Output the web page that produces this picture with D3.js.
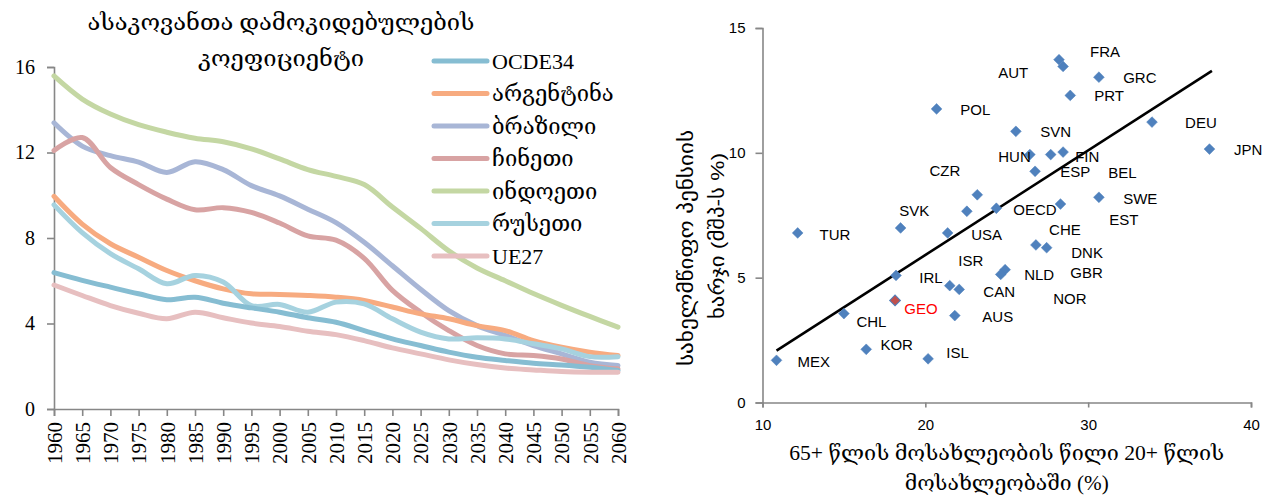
<!DOCTYPE html>
<html>
<head>
<meta charset="utf-8">
<script src="https://cdn.jsdelivr.net/npm/d3@7"></script>
<style>
  html, body { margin: 0; padding: 0; background: #ffffff; }
  svg { display: block; }
</style>
</head>
<body>
<svg id="chart" width="1271" height="496"></svg>
<script>
// ---- Left panel: old-age dependency ratio, 1960–2060 ----
const years = [1960, 1965, 1970, 1975, 1980, 1985, 1990, 1995, 2000, 2005, 2010,
               2015, 2020, 2025, 2030, 2035, 2040, 2045, 2050, 2055, 2060];

const seriesNames = ["OCDE34", "არგენტინა", "ბრაზილი", "ჩინეთი", "ინდოეთი", "რუსეთი", "UE27"];

const ocde34    = [6.38, 6.02, 5.70, 5.39, 5.11, 5.23, 4.95, 4.73, 4.53, 4.27, 4.06, 3.67, 3.28, 2.97, 2.66, 2.42, 2.27, 2.14, 2.06, 1.95, 1.80];
const argentina = [9.95, 8.65, 7.73, 7.10, 6.48, 6.00, 5.62, 5.39, 5.36, 5.31, 5.23, 5.08, 4.77, 4.45, 4.22, 3.90, 3.67, 3.20, 2.89, 2.66, 2.50];
const brazil    = [13.39, 12.30, 11.85, 11.55, 11.07, 11.57, 11.20, 10.45, 9.97, 9.35, 8.72, 7.80, 6.70, 5.60, 4.60, 3.90, 3.44, 2.97, 2.58, 2.19, 2.03];
const china     = [12.09, 12.70, 11.30, 10.50, 9.82, 9.32, 9.42, 9.20, 8.70, 8.10, 7.90, 7.05, 5.55, 4.53, 3.67, 2.97, 2.58, 2.50, 2.34, 2.03, 1.88];
const india     = [15.58, 14.50, 13.80, 13.30, 12.95, 12.67, 12.50, 12.17, 11.70, 11.20, 10.88, 10.50, 9.45, 8.45, 7.40, 6.60, 6.00, 5.40, 4.85, 4.33, 3.83];
const russia    = [9.55, 8.25, 7.27, 6.56, 5.86, 6.25, 5.94, 4.84, 4.89, 4.53, 5.00, 4.92, 4.22, 3.60, 3.28, 3.33, 3.28, 3.05, 2.81, 2.45, 2.45];
const ue27      = [5.80, 5.31, 4.84, 4.48, 4.22, 4.53, 4.27, 4.02, 3.86, 3.64, 3.48, 3.20, 2.86, 2.58, 2.30, 2.08, 1.92, 1.83, 1.75, 1.72, 1.72];

const leftYTicks = [0, 4, 8, 12, 16];

// ---- Right panel: public pension spending vs. share of population 65+ ----
const countries = ["FRA", "AUT", "GRC", "PRT", "POL", "SVN", "DEU", "JPN", "HUN", "FIN", "BEL",
                   "ESP", "CZR", "SVK", "OECD", "SWE", "EST", "USA", "TUR", "CHE", "DNK", "ISR",
                   "NLD", "GBR", "IRL", "CAN", "NOR", "GEO", "AUS", "CHL", "KOR", "ISL", "MEX"];
// share of 65+ in population 20+ (%)
const elderlyShare = [28.21, 28.46, 30.66, 28.90, 20.69, 25.56, 33.92, 37.45, 26.42, 28.46, 27.70,
                      26.74, 23.19, 18.48, 24.36, 30.66, 28.30, 21.37, 12.16, 26.79, 27.45, 22.55,
                      24.90, 24.63, 18.20, 21.50, 22.08, 18.14, 21.81, 15.00, 16.37, 20.17, 10.86];
// public pension expenditure (% of GDP)
const pensionSpend = [13.73, 13.46, 13.03, 12.30, 11.76, 10.86, 11.23, 10.15, 9.93, 10.03, 9.93,
                      9.26, 8.32, 6.99, 7.78, 8.22, 7.95, 6.79, 6.79, 6.31, 6.20, 7.66,
                      5.32, 5.13, 5.09, 4.68, 4.53, 4.09, 3.48, 3.56, 2.13, 1.75, 1.69];
// where each country code is written, in axis units
const labelX = [30.12, 24.48, 32.15, 30.37, 22.15, 27.06, 35.95, 38.96, 24.48, 29.20, 31.23,
                28.28, 20.25, 18.40, 25.40, 32.15, 31.29, 22.82, 13.50, 27.60, 28.96, 22.02,
                26.07, 28.90, 19.63, 23.56, 27.85, 18.71, 23.50, 15.77, 17.24, 21.29, 12.15];
const labelY = [14.04, 13.20, 13.00, 12.28, 11.72, 10.84, 11.20, 10.12, 9.84, 9.84, 9.20,
                9.24, 9.28, 7.68, 7.72, 8.16, 7.32, 6.72, 6.72, 6.92, 6.00, 5.68,
                5.12, 5.20, 5.00, 4.44, 4.16, 3.76, 3.44, 3.24, 2.32, 2.00, 1.64];
const trendX = [10.86, 37.60];
const trendY = [2.08, 13.28];
const rightXTicks = [10, 20, 30, 40];
const rightYTicks = [0, 5, 10, 15];

// ---- styling ----
const seriesColors = ["#86bdd2", "#f7ab80", "#a8b6d6", "#d8a3a3", "#c4d7a3", "#a6d2df", "#e7bfc0"];
const axisColor = "#878787";
const serif = "'Liberation Serif', 'DejaVu Serif', serif";
const sans = "'Liberation Sans', 'DejaVu Sans', sans-serif";

const svg = d3.select("#chart");
svg.append("rect").attr("width", 1271).attr("height", 496).attr("fill", "#ffffff");

// draws a text line squeezed or stretched to a given width
function fitText(parent, text, width, attrs) {
  const t = parent.append("text").text(text);
  Object.entries(attrs).forEach(([k, v]) => t.attr(k, v));
  t.attr("textLength", width).attr("lengthAdjust", "spacingAndGlyphs");
  return t;
}

// ================= Left panel =================
const xL = d3.scaleLinear().domain([1960, 2060]).range([54, 618]);
const yL = d3.scaleLinear().domain([0, 16]).range([409, 67]);

const left = svg.append("g");

// title (two centred lines)
fitText(left, "ასაკოვანთა დამოკიდებულების", 387, {
  x: 281, y: 30, "text-anchor": "middle", "font-family": serif, "font-size": 23, fill: "#000"
});
fitText(left, "კოეფიციენტი", 166, {
  x: 281, y: 66, "text-anchor": "middle", "font-family": serif, "font-size": 23, fill: "#000"
});

// axes
const yAxisL = left.append("g").attr("transform", `translate(${xL(1960)},0)`)
  .call(d3.axisLeft(yL).tickValues(leftYTicks).tickSize(7).tickPadding(12).tickFormat(d3.format("d")));
const xAxisL = left.append("g").attr("transform", `translate(0,${yL(0)})`)
  .call(d3.axisBottom(xL).tickValues(years).tickSize(7).tickFormat(d3.format("d")));
[yAxisL, xAxisL].forEach(g => {
  g.select(".domain").attr("stroke", axisColor).attr("stroke-width", 1.6);
  g.selectAll(".tick line").attr("stroke", axisColor).attr("stroke-width", 1.6);
  g.selectAll("text").attr("font-family", serif).attr("fill", "#000");
});
yAxisL.selectAll("text").attr("font-size", 20);
xAxisL.selectAll("text").attr("font-size", 21)
  .attr("transform", "rotate(-90)")
  .attr("text-anchor", "end").attr("dy", "0.35em")
  .attr("x", -13).attr("y", 0);

// lines
const seriesData = [ocde34, argentina, brazil, china, india, russia, ue27];
const line = d3.line()
  .x((d, i) => xL(years[i]))
  .y(d => yL(d))
  .curve(d3.curveCatmullRom.alpha(0.5));

const drawOrder = [4, 2, 3, 1, 5, 0, 6];
drawOrder.forEach(k => {
  left.append("path").datum(seriesData[k])
    .attr("d", line).attr("fill", "none")
    .attr("stroke", seriesColors[k]).attr("stroke-width", 5)
    .attr("stroke-linecap", "round").attr("stroke-linejoin", "round");
});

// legend
const legend = left.append("g");
seriesNames.forEach((name, i) => {
  const y = 61 + i * 32.5;
  legend.append("line").attr("x1", 434).attr("x2", 487).attr("y1", y).attr("y2", y)
    .attr("stroke", seriesColors[i]).attr("stroke-width", 5).attr("stroke-linecap", "round");
  legend.append("text").attr("x", 492).attr("y", y).attr("dy", "0.35em")
    .attr("font-family", serif).attr("font-size", 22).attr("fill", "#000").text(name);
});

// ================= Right panel =================
const xR = d3.scaleLinear().domain([10, 40]).range([762.5, 1251]);
const yR = d3.scaleLinear().domain([0, 15]).range([402.5, 28]);
const right = svg.append("g");

const yAxisR = right.append("g").attr("transform", `translate(${xR(10)},0)`)
  .call(d3.axisLeft(yR).tickValues(rightYTicks).tickSize(7).tickPadding(10).tickFormat(d3.format("d")));
const xAxisR = right.append("g").attr("transform", `translate(0,${yR(0)})`)
  .call(d3.axisBottom(xR).tickValues(rightXTicks).tickSize(5).tickPadding(12).tickFormat(d3.format("d")));
[yAxisR, xAxisR].forEach(g => {
  g.select(".domain").attr("stroke", axisColor).attr("stroke-width", 1.6);
  g.selectAll(".tick line").attr("stroke", axisColor).attr("stroke-width", 1.6);
  g.selectAll("text").attr("font-family", sans).attr("font-size", 15).attr("fill", "#000");
});

// trend line
right.append("line")
  .attr("x1", xR(trendX[0])).attr("y1", yR(trendY[0]))
  .attr("x2", xR(trendX[1])).attr("y2", yR(trendY[1]))
  .attr("stroke", "#000").attr("stroke-width", 2.6);

// points
const diamond = d3.symbol().type(d3.symbolSquare).size(58);
countries.forEach((c, i) => {
  const isGeo = c === "GEO";
  right.append("path").attr("d", diamond())
    .attr("transform", `translate(${xR(elderlyShare[i])},${yR(pensionSpend[i])}) rotate(45)`)
    .attr("fill", isGeo ? "#c0504d" : "#4f81bd")
    .attr("stroke", "#4f81bd").attr("stroke-width", isGeo ? 1 : 0.5);
});

// country labels
countries.forEach((c, i) => {
  right.append("text")
    .attr("x", xR(labelX[i])).attr("y", yR(labelY[i])).attr("dy", "0.35em")
    .attr("font-family", sans).attr("font-size", 15)
    .attr("fill", c === "GEO" ? "#ff0000" : "#000").text(c);
});

// axis titles
const xMid = (xR.range()[0] + xR.range()[1]) / 2;
fitText(right, "65+ წლის მოსახლეობის წილი 20+ წლის", 435, {
  x: xMid, y: 460, "text-anchor": "middle", "font-family": serif, "font-size": 21, fill: "#000"
});
fitText(right, "მოსახლეობაში (%)", 204, {
  x: xMid, y: 490, "text-anchor": "middle", "font-family": serif, "font-size": 21, fill: "#000"
});

fitText(right, "სახელმწიფო პენსიის", 236, {
  transform: "translate(693,248) rotate(-90)", "text-anchor": "middle",
  "font-family": sans, "font-size": 19, fill: "#000"
});
fitText(right, "ხარჯი (მშპ-ს %)", 166, {
  transform: "translate(724,236) rotate(-90)", "text-anchor": "middle",
  "font-family": sans, "font-size": 19, fill: "#000"
});
</script>
</body>
</html>
